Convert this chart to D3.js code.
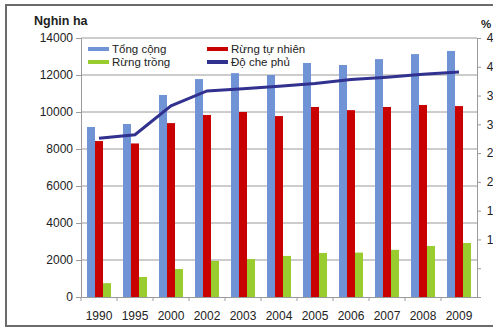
<!DOCTYPE html>
<html>
<head>
<meta charset="utf-8">
<script src="https://cdn.jsdelivr.net/npm/d3@7"></script>
<style>
  body { margin: 0; background: #fff; }
  svg { display: block; font-family: "Liberation Sans", Arial, sans-serif; }
</style>
</head>
<body>
<div id="chart"></div>
<script>
// data
var years      = ['1990','1995','2000','2002','2003','2004','2005','2006','2007','2008','2009'];
var tong_cong  = [9190, 9350, 10920, 11780, 12100, 12000, 12650, 12540, 12860, 13130, 13300];
var tu_nhien   = [8430, 8300, 9400, 9840, 10000, 9780, 10270, 10100, 10270, 10380, 10320];
var rung_trong = [750, 1080, 1510, 1950, 2050, 2220, 2380, 2400, 2550, 2760, 2920];
var che_phu    = [27.6, 28.2, 33.2, 35.8, 36.2, 36.6, 37.1, 37.8, 38.2, 38.7, 39.1];
var left_ticks  = [0, 2000, 4000, 6000, 8000, 10000, 12000, 14000];
var right_ticks = [0, 5, 10, 15, 20, 25, 30, 35, 40, 45];

var series = [
	{ name: 'Tổng cộng',     values: tong_cong,  color: '#7093d6' },
	{ name: 'Rừng tự nhiên', values: tu_nhien,   color: '#c80000' },
	{ name: 'Rừng trồng',    values: rung_trong, color: '#99cc2e' }
];

var chart_width  = 493;
var chart_height = 330;
var plot_left = 81, plot_right = 477, plot_top = 38, plot_bottom = 297;

var svg = d3.select('#chart')
	.append('svg')
	.attr('width', chart_width)
	.attr('height', chart_height);

// outer frame
svg.append('rect')
	.attr('x', 6).attr('y', 5)
	.attr('width', 494).attr('height', 321)
	.attr('fill', '#fff')
	.attr('stroke', '#6b6b6b')
	.attr('stroke-width', 2);

// scales
var x_scale = d3.scaleBand()
	.domain(years)
	.range([plot_left, plot_right]);

var x_inner = d3.scaleBand()
	.domain(d3.range(series.length))
	.range([6, 30]);

var y_scale = d3.scaleLinear()
	.domain([0, 14000])
	.range([plot_bottom, plot_top]);

var y2_scale = d3.scaleLinear()
	.domain([0, 45])
	.range([plot_bottom, plot_top]);

// gridlines
svg.append('g')
	.selectAll('line')
	.data(left_ticks.slice(1))
	.enter()
	.append('line')
	.attr('x1', plot_left).attr('x2', plot_right)
	.attr('y1', function(d){ return y_scale(d); })
	.attr('y2', function(d){ return y_scale(d); })
	.attr('stroke', '#9a9a9a')
	.attr('stroke-width', 1);

// bars
series.forEach(function(s, si){
	svg.append('g')
		.selectAll('rect')
		.data(s.values)
		.enter()
		.append('rect')
		.attr('x', function(d, i){ return x_scale(years[i]) + x_inner(si); })
		.attr('y', function(d){ return y_scale(d); })
		.attr('width', x_inner.bandwidth())
		.attr('height', function(d){ return plot_bottom - y_scale(d); })
		.attr('fill', s.color);
});

// line
var line = d3.line()
	.x(function(d, i){ return x_scale(years[i]) + x_scale.bandwidth() / 2; })
	.y(function(d){ return y2_scale(d); });

svg.append('path')
	.datum(che_phu)
	.attr('d', line)
	.attr('fill', 'none')
	.attr('stroke', '#313190')
	.attr('stroke-width', 3);

// axes
var left_axis = d3.axisLeft(y_scale)
	.tickValues(left_ticks)
	.tickFormat(d3.format('d'))
	.tickSize(5)
	.tickPadding(3);

var g_left = svg.append('g')
	.attr('transform', 'translate(' + plot_left + ',0)')
	.call(left_axis);

var right_axis = d3.axisRight(y2_scale)
	.tickValues(right_ticks)
	.tickSize(4)
	.tickPadding(3);

var g_right = svg.append('g')
	.attr('transform', 'translate(' + plot_right + ',0)')
	.call(right_axis);

// labels run off the right edge, as in the original
g_right.selectAll('text')
	.attr('text-anchor', 'end')
	.attr('x', 23);

var bottom_axis = d3.axisBottom(x_scale)
	.tickSize(0)
	.tickPadding(14);

var g_bottom = svg.append('g')
	.attr('transform', 'translate(0,' + plot_bottom + ')')
	.call(bottom_axis);

// category separators on x axis
g_bottom.append('g')
	.selectAll('line')
	.data(years)
	.enter()
	.append('line')
	.attr('x1', function(d){ return x_scale(d); })
	.attr('x2', function(d){ return x_scale(d); })
	.attr('y1', 0).attr('y2', 4)
	.attr('stroke', '#9a9a9a');

[g_left, g_right, g_bottom].forEach(function(g){
	g.select('.domain').attr('stroke', '#9a9a9a');
	g.selectAll('.tick line').attr('stroke', '#9a9a9a');
	g.selectAll('text')
		.attr('font-size', 12)
		.attr('fill', '#222')
		.style('font-family', '"Liberation Sans", Arial, sans-serif');
});

// axis titles
svg.append('text')
	.text('Nghin ha')
	.attr('x', 34).attr('y', 25)
	.attr('font-size', 12.5)
	.attr('font-weight', 'bold')
	.attr('fill', '#222');

svg.append('text')
	.text('%')
	.attr('x', 481).attr('y', 28)
	.attr('font-size', 11.5)
	.attr('font-weight', 'bold')
	.attr('fill', '#222');

// legend
var legend = [
	{ name: 'Tổng cộng',     color: '#7093d6', x: 88,  y: 49 },
	{ name: 'Rừng tự nhiên', color: '#c80000', x: 207, y: 49 },
	{ name: 'Rừng trồng',    color: '#99cc2e', x: 88,  y: 62 },
	{ name: 'Độ che phủ',    color: '#313190', x: 207, y: 62 }
];

var lg = svg.append('g')
	.selectAll('g')
	.data(legend)
	.enter()
	.append('g');

lg.append('line')
	.attr('x1', function(d){ return d.x; })
	.attr('x2', function(d){ return d.x + 21; })
	.attr('y1', function(d){ return d.y; })
	.attr('y2', function(d){ return d.y; })
	.attr('stroke', function(d){ return d.color; })
	.attr('stroke-width', 4);

lg.append('text')
	.text(function(d){ return d.name; })
	.attr('x', function(d){ return d.x + 24; })
	.attr('y', function(d){ return d.y + 4; })
	.attr('font-size', 11.5)
	.attr('fill', '#222');
</script>
</body>
</html>
